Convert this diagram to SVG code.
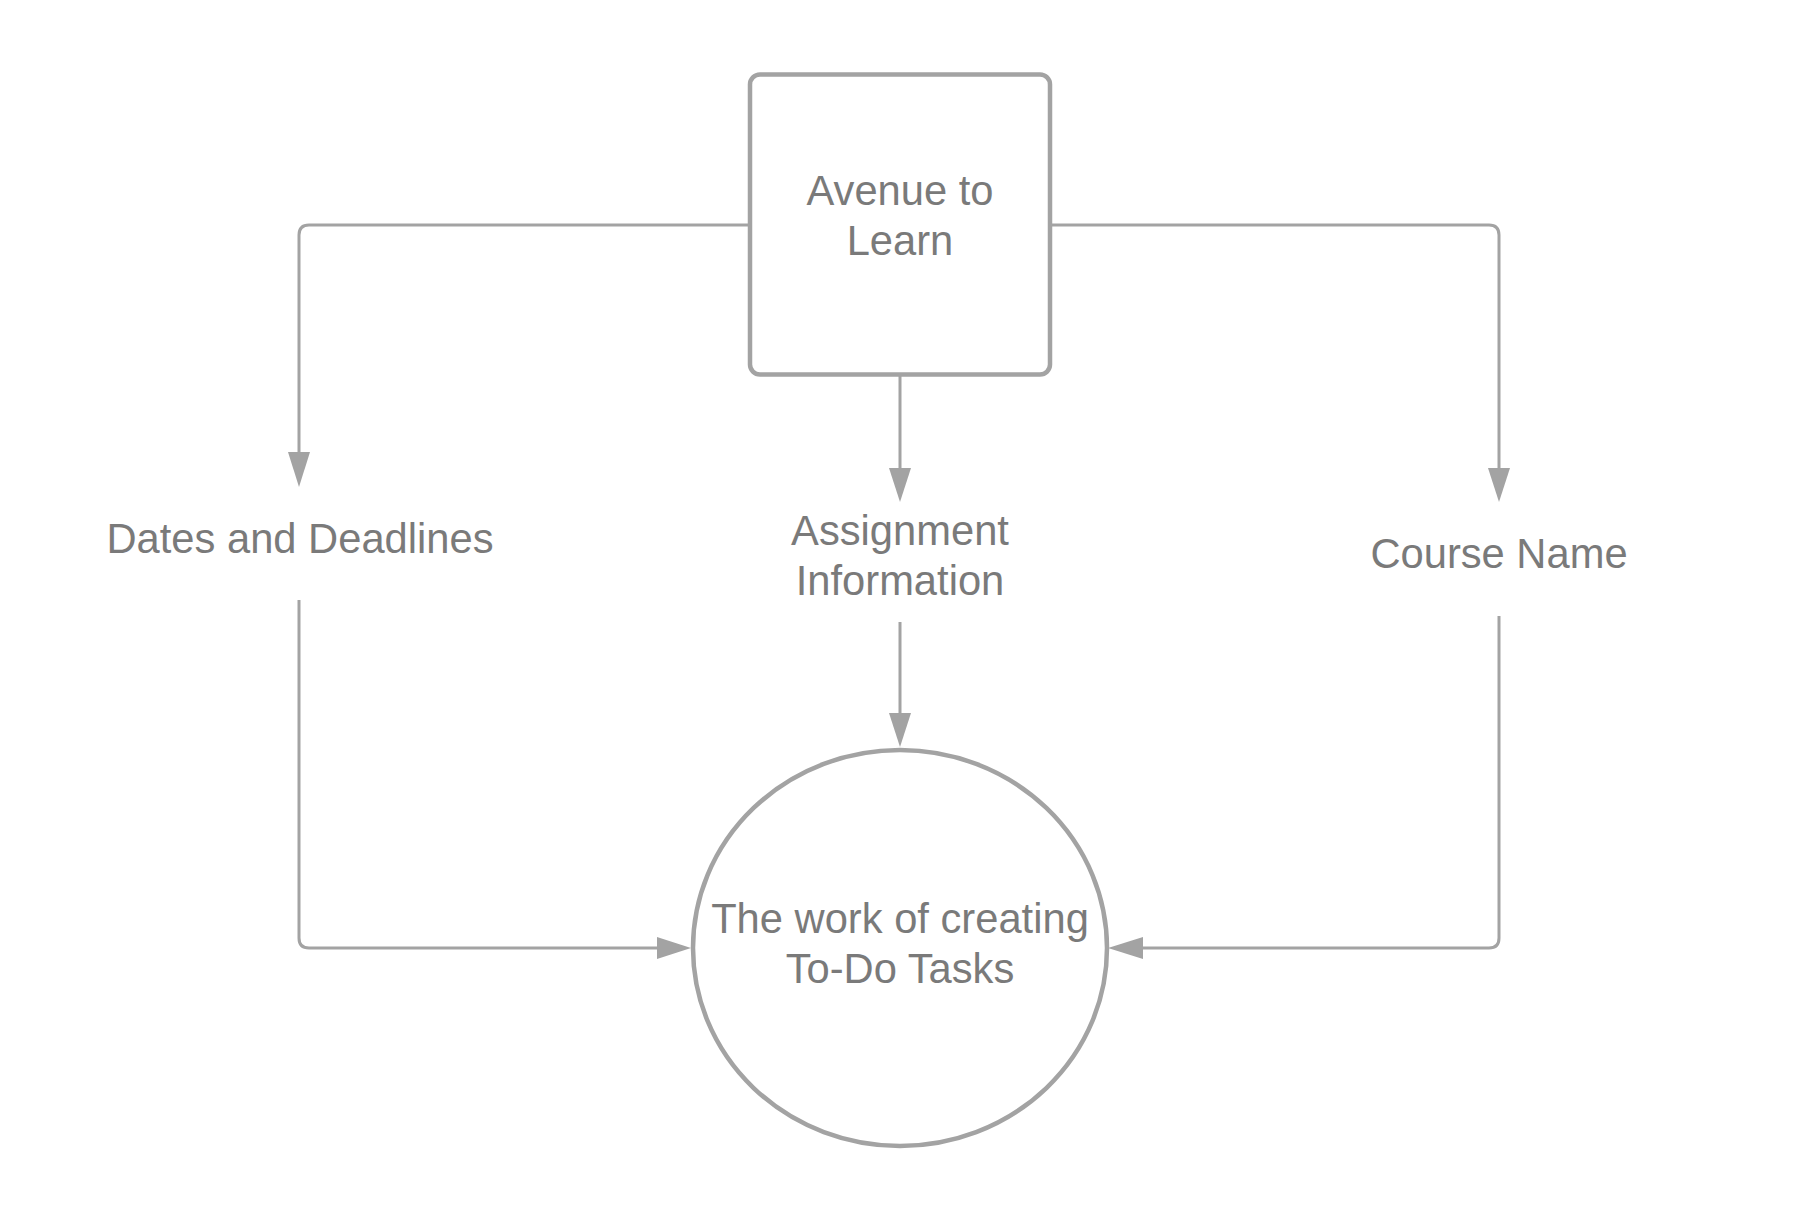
<svg xmlns="http://www.w3.org/2000/svg" width="1800" height="1223" viewBox="0 0 1800 1223">
<style>
.t{font-family:"Liberation Sans",Arial,sans-serif;font-size:41.7px;fill:#7a7a7a;text-anchor:middle}
.n{fill:#ffffff;stroke:#a3a3a3;stroke-width:4.5}
.c{fill:none;stroke:#a3a3a3;stroke-width:3}
.h{fill:#a3a3a3;stroke:none}
</style>
<rect width="1800" height="1223" fill="#ffffff"/>
<g id="connectors">
<path class="c" d="M750 225 H309 Q299 225 299 235 V455"/>
<polygon class="h" points="288,452 310,452 299,487"/>
<path class="c" d="M1050 225 H1489 Q1499 225 1499 235 V470"/>
<polygon class="h" points="1488,468 1510,468 1499,502"/>
<path class="c" d="M900 376 V470"/>
<polygon class="h" points="889,468 911,468 900,502"/>
<path class="c" d="M900 622 V715"/>
<polygon class="h" points="889,713 911,713 900,747"/>
<path class="c" d="M299 600 V938 Q299 948 309 948 H660"/>
<polygon class="h" points="657,937 657,959 691,948"/>
<path class="c" d="M1499 616 V938 Q1499 948 1489 948 H1140"/>
<polygon class="h" points="1143,937 1143,959 1108,948"/>
</g>
<g id="avenue">
<rect class="n" x="750" y="74.5" width="300" height="300" rx="10"/>
<text class="t" x="900" y="205">Avenue to</text>
<text class="t" x="900" y="255">Learn</text>
</g>
<g id="dates">
<text class="t" x="300" y="553">Dates and Deadlines</text>
</g>
<g id="assignment">
<text class="t" x="900" y="545">Assignment</text>
<text class="t" x="900" y="595">Information</text>
</g>
<g id="course">
<text class="t" x="1499" y="568">Course Name</text>
</g>
<g id="work">
<ellipse class="n" cx="900" cy="948" rx="207" ry="198"/>
<text class="t" x="900" y="933">The work of creating</text>
<text class="t" x="900" y="983">To-Do Tasks</text>
</g>
</svg>
